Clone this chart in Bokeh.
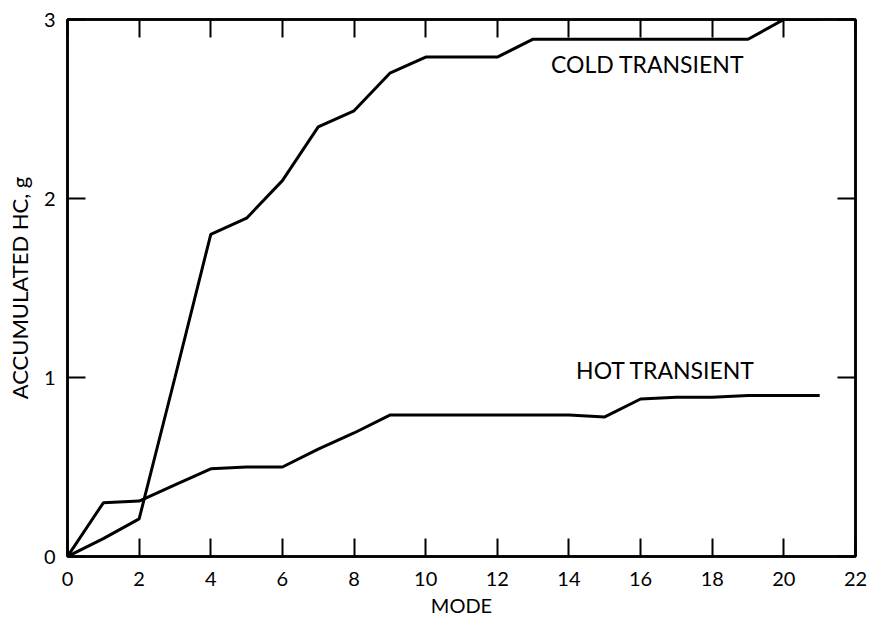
from bokeh.plotting import figure
from bokeh.models import Range1d, LinearAxis, FixedTicker, Label
from bokeh.embed import file_html
from bokeh.resources import INLINE

# ---- data ----
modes = list(range(22))
cold_transient = [0, 0.10, 0.21, 1.00, 1.80, 1.89, 2.10, 2.40, 2.49, 2.70, 2.79,
                  2.79, 2.79, 2.89, 2.89, 2.89, 2.89, 2.89, 2.89, 2.89, 3.00, 3.00]
hot_transient = [0, 0.30, 0.31, 0.40, 0.49, 0.50, 0.50, 0.60, 0.69, 0.79, 0.79,
                 0.79, 0.79, 0.79, 0.79, 0.78, 0.88, 0.89, 0.89, 0.90, 0.90, 0.90]
x_ticks = [0, 2, 4, 6, 8, 10, 12, 14, 16, 18, 20, 22]
y_ticks = [0, 1, 2, 3]
x_title = "MODE"
y_title = "ACCUMULATED HC, g"
cold_label = "COLD TRANSIENT"
hot_label = "HOT TRANSIENT"

FONT = "Lato"

p = figure(width=871, height=620, x_range=Range1d(0, 22), y_range=Range1d(0, 3),
           output_backend="svg", toolbar_location=None,
           min_border_left=67, min_border_right=16, min_border_top=19, min_border_bottom=64)
p.xgrid.visible = False
p.ygrid.visible = False
p.outline_line_color = "black"
p.outline_line_width = 2.5
p.background_fill_color = "white"
p.border_fill_color = "white"

def style_axis(ax, ticks, show_labels):
    ax.ticker = FixedTicker(ticks=ticks)
    ax.axis_line_color = "black"
    ax.axis_line_width = 2.5
    ax.major_tick_in = 18
    ax.major_tick_out = 0
    ax.major_tick_line_width = 2
    ax.major_tick_line_color = "black"
    ax.minor_tick_line_color = None
    if show_labels:
        ax.major_label_text_font = FONT
        ax.major_label_text_font_size = "20px"
        ax.major_label_text_color = "black"
        ax.axis_label_text_font = FONT
        ax.axis_label_text_font_style = "normal"
        ax.axis_label_text_color = "black"
    else:
        ax.major_label_overrides = {t: "" for t in ticks}
        ax.major_label_standoff = 0

xa = p.xaxis[0]
style_axis(xa, x_ticks, True)
xa.major_label_standoff = 15
xa.axis_label = x_title
xa.axis_label_text_font_size = "20px"
xa.axis_label_standoff = 4

ya = p.yaxis[0]
style_axis(ya, y_ticks, True)
ya.major_label_standoff = 12
ya.axis_label = y_title
ya.axis_label_text_font_size = "22px"
ya.axis_label_standoff = 8

top = LinearAxis()
style_axis(top, x_ticks, False)
p.add_layout(top, "above")
right = LinearAxis()
style_axis(right, y_ticks, False)
p.add_layout(right, "right")

p.line(modes, cold_transient, line_color="black", line_width=3)
p.line(modes, hot_transient, line_color="black", line_width=3)

p.add_layout(Label(x=13.5, y=2.75, text=cold_label, text_font=FONT, text_color="black",
                   text_font_size="23px", text_baseline="middle", text_align="left"))
p.add_layout(Label(x=14.2, y=1.04, text=hot_label, text_font=FONT, text_color="black",
                   text_font_size="23px", text_baseline="middle", text_align="left"))

open("out.html", "w").write(file_html(p, INLINE))
